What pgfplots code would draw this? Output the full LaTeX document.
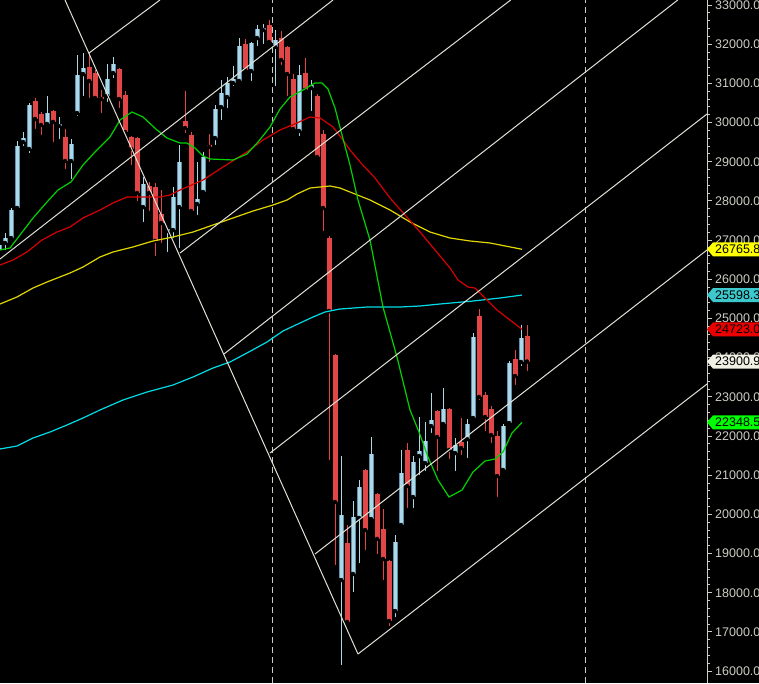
\documentclass[border=0pt]{standalone}
\usepackage{pgfplots}
\pgfplotsset{compat=1.18}
\usepackage{pgfplotstable}
\usepackage{fontspec}
\setmainfont{Liberation Sans}
\definecolor{upfill}{RGB}{173,216,230}
\definecolor{upedge}{RGB}{95,145,175}
\definecolor{dnfill}{RGB}{226,70,70}
\definecolor{tl}{RGB}{225,225,215}
\definecolor{lbl}{RGB}{205,205,195}
\definecolor{magreen}{RGB}{0,210,0}
\definecolor{mared}{RGB}{215,0,0}
\definecolor{mayellow}{RGB}{225,215,0}
\definecolor{macyan}{RGB}{0,220,230}
\definecolor{tagyellow}{RGB}{255,255,0}
\definecolor{tagcyan}{RGB}{60,200,205}
\definecolor{tagred}{RGB}{235,0,0}
\definecolor{tagwhite}{RGB}{240,240,228}
\definecolor{taggreen}{RGB}{0,255,0}

\pgfplotstableread{
i O H L C
0 26748 27003 26620 26876
1 26927 27182 26697 27054
2 27054 27820 26952 27769
3 27820 29530 27794 29402
4 29504 29759 29351 29606
5 29326 30499 29172 30448
8 29964 30678 29912 30244
10 29912 30142 29530 29964
12 29019 29581 28509 29453
13 30244 31724 30117 31214
14 31239 31775 30627 31393
18 30678 31495 30474 31112
19 31265 31673 31086 31495
24 27845 28611 27412 28432
28 27233 27309 26646 27284
29 27258 28356 27003 28101
30 27845 29428 26748 28994
33 27922 28994 27590 28050
34 28228 29249 28152 29121
36 29606 30448 29377 30346
37 30397 31086 30015 30755
38 30653 31163 30321 31010
39 31010 31444 30882 31112
40 31061 32158 31035 31954
42 31316 32056 31010 32031
43 32158 32490 31903 32388
44 32362 32516 31954 32413
46 31929 32362 30882 32107
50 29785 31469 29606 31214
52 30882 31086 30244 30959
57 18326 21491 16106 19985
59 18480 20342 17969 19934
60 19909 20878 18709 20700
62 19883 21976 19858 21542
66 17535 19475 17331 19296
67 19730 21644 19653 21057
69 20445 21491 20113 21338
70 21491 22486 20955 21618
71 21312 22359 21057 21874
72 22256 23099 22027 22410
74 22308 23226 22205 22690
76 21567 21950 21057 21772
78 21925 22435 21389 22308
79 22461 24630 22435 24528
84 21134 22308 21083 22256
85 22333 23915 22231 23864
87 23890 24834 23737 24502
}\updata

\pgfplotstableread{
i O H L C
6 30550 30627 29785 30091
7 30219 30270 29632 29938
9 30295 30321 29453 30015
11 29632 29836 28764 29019
15 31418 31801 30576 31061
16 31265 31342 30525 30627
17 30653 30831 30193 30601
20 31367 31393 30321 30601
21 30704 30806 29708 29759
22 29632 29657 28866 29326
23 29606 29632 27947 28203
25 28381 28483 27692 28203
26 28356 28458 26544 26978
27 27667 28279 26876 27437
31 30040 30806 29683 29861
32 29683 29759 27667 27743
35 29428 29708 28943 29377
41 32005 32133 31265 31342
45 32490 32618 31980 32056
47 32158 32337 31418 31597
48 31929 31954 30627 31239
49 31112 31239 29734 29836
51 31265 31648 30780 30831
53 30678 30729 29045 29121
54 29708 29810 27182 27820
55 27054 27105 21338 25191
56 24068 24094 18658 20317
58 19271 19730 17178 17255
61 21134 21159 19041 19602
63 20521 20547 18939 19373
64 19628 20138 18275 18862
65 18811 18837 17101 17280
68 21644 21823 20113 20725
73 22639 22665 21057 21976
75 22690 22716 21363 21644
77 21848 22461 21465 21695
80 25064 25242 22869 22997
81 23048 23124 22078 22486
82 22690 22767 21772 22027
83 22001 22129 20394 20980
86 23966 24196 23252 23532
88 24553 24834 23609 23901
}\dndata

\pgfplotsset{
  errbar/.style 2 args={only marks, mark=none, forget plot,
    error bars/.cd, y dir=plus, y explicit, error mark=none,
    error bar style={line width=#1, draw=#2, line cap=butt}},
}
\newcommand\pricetag[4]{%
  \path[fill=#2] (axis cs:118,#1) -- ++(6pt,7pt) -- ++(60pt,0pt) -- ++(0pt,-14pt) -- ++(-60pt,0pt) -- cycle;
  \node[anchor=west, inner sep=0pt, text=#3, font=\fontsize{12.5}{13}\selectfont] at ([xshift=8pt]axis cs:118,#1) {#4};
}

\begin{document}
\begin{tikzpicture}[x=1pt,y=1pt]
\useasboundingbox (0,0) rectangle (759,683);
\clip (0,0) rectangle (759,683);
\fill[black] (0,0) rectangle (759,683);
\begin{axis}[
  at={(0pt,0pt)}, anchor=south west, scale only axis,
  width=707pt, height=683pt,
  xmin=0.1667, xmax=118, ymin=15698, ymax=33128,
  axis x line=none, axis y line*=right,
  xtick=\empty,
  clip mode=individual,
  ytick={16000,17000,...,33000}, minor y tick num=4,
  tick align=outside, major tick length=5pt, minor tick length=3pt,
  major tick style={draw=lbl, line width=1pt},
  minor tick style={draw=lbl, line width=1pt},
  y axis line style={draw=lbl, line width=1pt},
  /pgf/number format/assume math mode=true,
  scaled y ticks=false,
  yticklabel={\pgfmathprintnumber[fixed,fixed zerofill,precision=1,1000 sep={}]{\tick}},
  yticklabel style={font=\fontsize{12.5}{13}\selectfont, text=lbl, anchor=west, inner sep=0pt, xshift=3pt},
]
% period separators
\addplot[lbl, line width=1pt, dash pattern=on 6pt off 4pt] coordinates {(45.5,15698) (45.5,33128)};
\addplot[lbl, line width=1pt, dash pattern=on 6pt off 4pt] coordinates {(97.67,15698) (97.67,33128)};

% candles: wicks
\addplot[errbar={1pt}{upfill}] table[x=i, y=L, y error expr=\thisrow{H}-\thisrow{L}] {\updata};
\addplot[errbar={1pt}{dnfill}] table[x=i, y=L, y error expr=\thisrow{H}-\thisrow{L}] {\dndata};
% candles: bodies
\addplot[errbar={5pt}{upedge}] table[x=i, y=O, y error expr=\thisrow{C}-\thisrow{O}] {\updata};
\addplot[errbar={3pt}{upfill}] table[x=i, y=O, y error expr=\thisrow{C}-\thisrow{O}] {\updata};
\addplot[errbar={5pt}{dnfill}] table[x=i, y=C, y error expr=\thisrow{O}-\thisrow{C}] {\dndata};

% moving averages
\addplot[macyan, line width=1.2pt] coordinates {
(0.17,21670) (3.0,21746) (5.67,21950) (8.5,22103) (11.33,22282) (14.0,22461)
(16.83,22665) (20.67,22920) (24.67,23124) (29.0,23303) (32.33,23507) (35.67,23737)
(38.5,23890) (41.33,24120) (44.67,24400) (47.33,24681) (50.17,24885) (52.33,25038)
(54.33,25166) (56.83,25242) (61.33,25293) (66.83,25293) (70.17,25319) (73.5,25370)
(79.0,25446) (83.5,25523) (87.17,25598)};
\addplot[mayellow, line width=1.2pt] coordinates {
(0.17,25370) (3.0,25549) (5.67,25778) (8.0,25931) (11.83,26161) (14.0,26314)
(16.83,26569) (19.0,26697) (22.33,26825) (25.67,26978) (29.0,27080) (32.33,27207)
(35.67,27386) (39.0,27565) (42.33,27743) (45.67,27896) (48.0,28024) (49.67,28177)
(51.83,28330) (53.5,28356) (55.17,28381) (56.83,28330) (58.5,28228) (61.83,28024)
(65.17,27769) (68.5,27463) (71.83,27207) (75.17,27054) (78.5,26978) (81.83,26927)
(87.17,26766)};
\addplot[mared, line width=1.2pt] coordinates {
(0.17,26365) (2.33,26493) (4.67,26697) (7.17,27003) (9.67,27207) (11.83,27335)
(14.0,27565) (16.83,27769) (19.0,27947) (21.33,28101) (24.33,28101) (26.83,28101)
(28.5,28152) (30.17,28279) (31.33,28356) (34.0,28534) (37.33,28866) (41.33,29249)
(44.0,29555) (46.83,29810) (49.67,29989) (51.83,30142) (53.5,30117) (55.67,29887)
(57.33,29555) (58.5,29300) (60.17,28994) (62.67,28585) (65.17,28075) (67.67,27641)
(70.17,27207) (72.67,26748) (75.17,26289) (76.5,25982) (78.17,25804) (79.33,25778)
(81.33,25472) (83.0,25217) (87.17,24723)};
\addplot[magreen, line width=1.2pt] coordinates {
(0.17,26748) (1.83,26799) (3.5,27131) (5.67,27564) (8.0,27973) (9.83,28279)
(12.0,28483) (14.0,28917) (16.0,29249) (18.5,29632) (20.17,30066) (22.17,30270)
(24.0,30142) (26.33,29810) (28.0,29606) (30.17,29479) (31.33,29479) (32.67,29351)
(34.0,29147) (35.17,29070) (39.0,29045) (41.33,29198) (43.17,29504) (45.17,29887)
(46.83,30346) (48.5,30652) (50.67,30831) (52.67,31010) (53.83,31010) (54.83,30857)
(56.0,30372) (57.17,29683) (58.5,28917) (59.83,28024) (61.83,27003) (64.0,25293)
(66.33,24017) (68.5,22665) (70.0,22103) (71.5,21465) (73.17,20878) (75.0,20445)
(77.17,20623) (79.0,21083) (81.0,21363) (82.67,21414) (84.0,21593) (85.5,22078)
(87.17,22348)};

% trend lines
\addplot[tl, line width=1pt] coordinates {(11.0,33128) (59.83,16438)};
\addplot[tl, line width=1pt] coordinates {(15.0,31775) (26.83,33128)};
\addplot[tl, line width=1pt] coordinates {(0.17,26518) (55.67,33128)};
\addplot[tl, line width=1pt] coordinates {(30.17,26671) (85.28,33128)};
\addplot[tl, line width=1pt] coordinates {(37.5,24094) (113.13,33128)};
\addplot[tl, line width=1pt] coordinates {(45.17,21567) (118,30219)};
\addplot[tl, line width=1pt] coordinates {(52.67,18990) (118,26748)};
\addplot[tl, line width=1pt] coordinates {(59.83,16438) (118,23328)};

% price tags
\pricetag{26765.8}{tagyellow}{black}{26765.8}
\pricetag{25598.3}{tagcyan}{black}{25598.3}
\pricetag{24723.0}{tagred}{black}{24723.0}
\pricetag{23900.9}{tagwhite}{black}{23900.9}
\pricetag{22348.5}{taggreen}{black}{22348.5}
\end{axis}
\end{tikzpicture}
\end{document}
